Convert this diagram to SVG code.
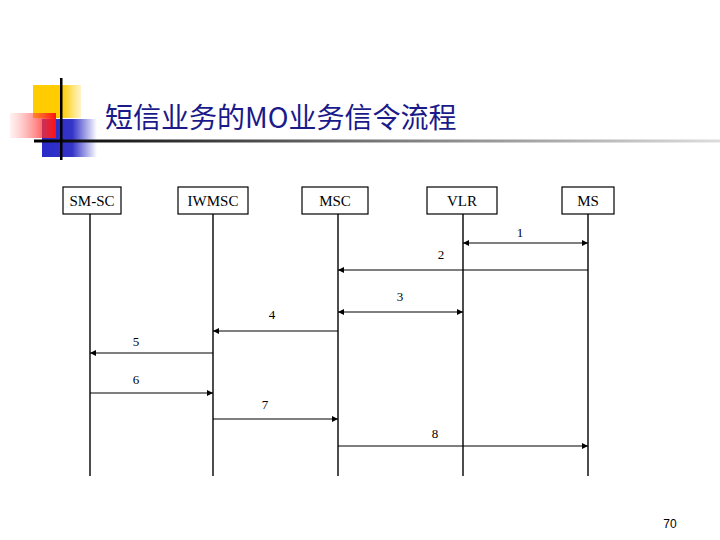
<svg xmlns="http://www.w3.org/2000/svg" width="720" height="540" viewBox="0 0 720 540">
<style>
.box{fill:#fff;stroke:#000;stroke-width:1.2}
.lbl{font-family:"Liberation Serif",serif;font-size:15px;text-anchor:middle;fill:#000}
.num{font-family:"Liberation Serif",serif;font-size:13px;text-anchor:middle;fill:#000}
.life{stroke:#000;stroke-width:1.4}
.msg{stroke:#000;stroke-width:1.2;fill:none}
</style>
<defs>
<marker id="ah" viewBox="0 0 10 10" refX="10" refY="5" markerWidth="8" markerHeight="6" markerUnits="userSpaceOnUse" orient="auto-start-reverse"><path d="M0,0 L10,5 L0,10 z" fill="#000"/></marker>
<linearGradient id="red" x1="0" x2="1" y1="0" y2="0"><stop offset="0" stop-color="#ff8080" stop-opacity="0.1"/><stop offset="1" stop-color="#ff1010"/></linearGradient>
<linearGradient id="blue" x1="0" x2="1" y1="0" y2="0"><stop offset="0" stop-color="#2a2ac8"/><stop offset="0.55" stop-color="#3434c8"/><stop offset="1" stop-color="#3434c8" stop-opacity="0"/></linearGradient>
<linearGradient id="yel" x1="0" x2="1" y1="0" y2="0"><stop offset="0" stop-color="#ffcc00"/><stop offset="0.6" stop-color="#ffcc00"/><stop offset="1" stop-color="#ffcc00" stop-opacity="0.2"/></linearGradient>
<linearGradient id="hl" x1="0" x2="1" y1="0" y2="0"><stop offset="0" stop-color="#000"/><stop offset="0.5" stop-color="#777"/><stop offset="1" stop-color="#ddd"/></linearGradient>
</defs>
<rect width="720" height="540" fill="#fff"/>
<g id="decor">
<rect x="33" y="85" width="48" height="33" fill="url(#yel)"/>
<rect x="42" y="119" width="55" height="38" fill="url(#blue)"/>
<rect x="10" y="113" width="46" height="25" fill="url(#red)"/>
<rect x="34" y="139.5" width="686" height="3" fill="url(#hl)"/>
<rect x="60" y="78" width="2.5" height="82" fill="#000"/>
</g>
<text id="title" x="105" y="128" font-family="'Noto Sans CJK SC','Noto Sans',sans-serif" font-size="28" fill="#1a1a8a">短信业务的MO业务信令流程</text>
<g id="connectors">
<line class="life" x1="90" y1="214" x2="90" y2="476"/>
<line class="life" x1="213" y1="214" x2="213" y2="476"/>
<line class="life" x1="338" y1="214" x2="338" y2="476"/>
<line class="life" x1="463" y1="214" x2="463" y2="476"/>
<line class="life" x1="588" y1="214" x2="588" y2="476"/>
<line class="msg" x1="463" y1="243" x2="588" y2="243" marker-start="url(#ah)" marker-end="url(#ah)"/>
<line class="msg" x1="588" y1="270" x2="338" y2="270" marker-end="url(#ah)"/>
<line class="msg" x1="338" y1="312" x2="463" y2="312" marker-start="url(#ah)" marker-end="url(#ah)"/>
<line class="msg" x1="338" y1="331" x2="213" y2="331" marker-end="url(#ah)"/>
<line class="msg" x1="213" y1="353" x2="90" y2="353" marker-end="url(#ah)"/>
<line class="msg" x1="90" y1="393" x2="213" y2="393" marker-end="url(#ah)"/>
<line class="msg" x1="213" y1="419" x2="338" y2="419" marker-end="url(#ah)"/>
<line class="msg" x1="338" y1="446" x2="588" y2="446" marker-end="url(#ah)"/>
<text class="num" x="520" y="237">1</text>
<text class="num" x="441" y="259">2</text>
<text class="num" x="400" y="301">3</text>
<text class="num" x="272" y="319">4</text>
<text class="num" x="136" y="346">5</text>
<text class="num" x="136" y="384">6</text>
<text class="num" x="265" y="409">7</text>
<text class="num" x="435" y="438">8</text>
</g>
<g id="n-smsc"><rect class="box" x="63" y="187" width="58" height="27"/><text class="lbl" x="92" y="206">SM-SC</text></g>
<g id="n-iwmsc"><rect class="box" x="178" y="187" width="70" height="27"/><text class="lbl" x="213" y="206">IWMSC</text></g>
<g id="n-msc"><rect class="box" x="302" y="187" width="66" height="27"/><text class="lbl" x="335" y="206">MSC</text></g>
<g id="n-vlr"><rect class="box" x="427" y="187" width="70" height="27"/><text class="lbl" x="462" y="206">VLR</text></g>
<g id="n-ms"><rect class="box" x="562" y="187" width="52" height="27"/><text class="lbl" x="588" y="206">MS</text></g>
<text id="page" x="670" y="528" font-family="'Liberation Sans',sans-serif" font-size="12" text-anchor="middle" fill="#000">70</text>
</svg>
